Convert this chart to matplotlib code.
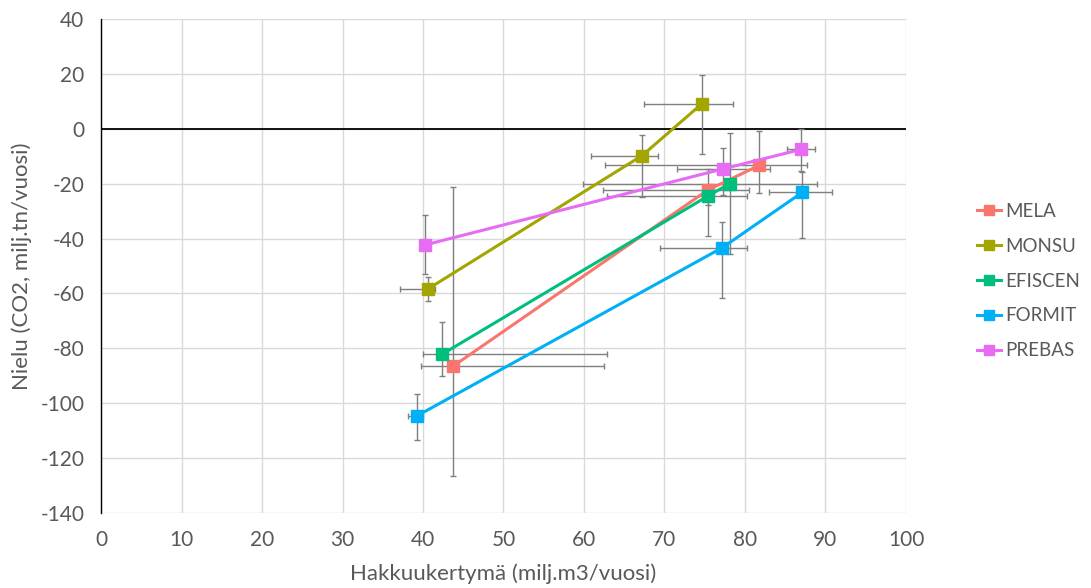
import matplotlib.pyplot as plt
import numpy as np

plt.rcParams['font.family'] = ['Lato', 'DejaVu Sans']
plt.rcParams['axes.unicode_minus'] = False

models = ['MELA', 'MONSU', 'EFISCEN', 'FORMIT', 'PREBAS']
colors = ['#F8766D', '#A3A500', '#00BF7D', '#00B0F6', '#E76BF3']

# harvest (x) and sink (y) per model, three scenarios each
harvest = {
    'MELA': [43.7, 75.4, 81.8],
    'MONSU': [40.6, 67.2, 74.6],
    'EFISCEN': [42.4, 75.4, 78.1],
    'FORMIT': [39.2, 77.2, 87.1],
    'PREBAS': [40.3, 77.3, 87.0],
}
sink = {
    'MELA': [-86.6, -22.3, -13.3],
    'MONSU': [-58.4, -9.8, 9.0],
    'EFISCEN': [-82.1, -24.5, -20.0],
    'FORMIT': [-104.7, -43.3, -23.2],
    'PREBAS': [-42.3, -14.6, -7.5],
}
# ranges (low, high) shown as error bars
harvest_lo = {
    'MELA': [39.8, 62.4, 62.6],
    'MONSU': [37.1, 60.9, 67.5],
    'EFISCEN': [40.0, 62.9, 59.9],
    'FORMIT': [38.1, 69.4, 83.0],
    'PREBAS': [40.3, 71.5, 85.2],
}
harvest_hi = {
    'MELA': [62.5, 80.5, 87.7],
    'MONSU': [41.5, 69.2, 78.5],
    'EFISCEN': [62.9, 80.3, 88.9],
    'FORMIT': [40.0, 80.3, 90.8],
    'PREBAS': [40.3, 83.1, 88.7],
}
sink_lo = {
    'MELA': [-126.5, -39.0, -23.4],
    'MONSU': [-62.6, -24.9, -9.2],
    'EFISCEN': [-90.1, -27.8, -45.5],
    'FORMIT': [-113.5, -61.7, -39.9],
    'PREBAS': [-53.0, -24.1, -15.4],
}
sink_hi = {
    'MELA': [-21.2, -14.8, -0.9],
    'MONSU': [-53.9, -2.1, 19.5],
    'EFISCEN': [-70.5, -21.2, -1.4],
    'FORMIT': [-96.8, -34.1, -15.6],
    'PREBAS': [-31.5, -6.9, -0.2],
}

fig = plt.figure(figsize=(10.91, 5.88), dpi=100)
ax = fig.add_axes([0.0926, 0.1276, 0.7378, 0.8401])

txt = '#595959'

for m, c in zip(models, colors):
    x = np.array(harvest[m])
    y = np.array(sink[m])
    xerr = [x - np.array(harvest_lo[m]), np.array(harvest_hi[m]) - x]
    yerr = [y - np.array(sink_lo[m]), np.array(sink_hi[m]) - y]
    ax.errorbar(x, y, xerr=xerr, yerr=yerr, fmt='none', ecolor='#7F7F7F',
                elinewidth=1.0, capsize=2.5, capthick=1.0, zorder=3)
    ax.plot(x, y, color=c, linewidth=2.2, marker='s', markersize=9,
            label=m, zorder=4)

ax.axhline(0, color='black', linewidth=1.3, zorder=2)

ax.set_xlim(0, 100)
ax.set_ylim(-140, 40)
ax.set_xticks(np.arange(0, 101, 10))
ax.set_yticks(np.arange(-140, 41, 20))
ax.grid(True, color='#D9D9D9', linewidth=1.0, zorder=0)
ax.set_axisbelow(True)

for s in ['top', 'right', 'bottom']:
    ax.spines[s].set_visible(False)
ax.spines['left'].set_color('black')
ax.spines['left'].set_linewidth(1.0)
ax.tick_params(axis='both', length=0, labelsize=15, labelcolor=txt)
ax.tick_params(axis='x', pad=12)
ax.tick_params(axis='y', pad=12)

ax.set_xlabel('Hakkuukertymä (milj.m3/vuosi)', fontsize=16, color=txt, labelpad=10)
ax.set_ylabel('Nielu (CO2, milj.tn/vuosi)', fontsize=16, color=txt, labelpad=6)

fig.legend(loc='center left', bbox_to_anchor=(0.88, 0.522), frameon=False,
           fontsize=13.5, labelcolor=txt, handlelength=1.3, handletextpad=0.2,
           labelspacing=0.95, markerscale=0.8)

fig.savefig('out.png', dpi=100)
